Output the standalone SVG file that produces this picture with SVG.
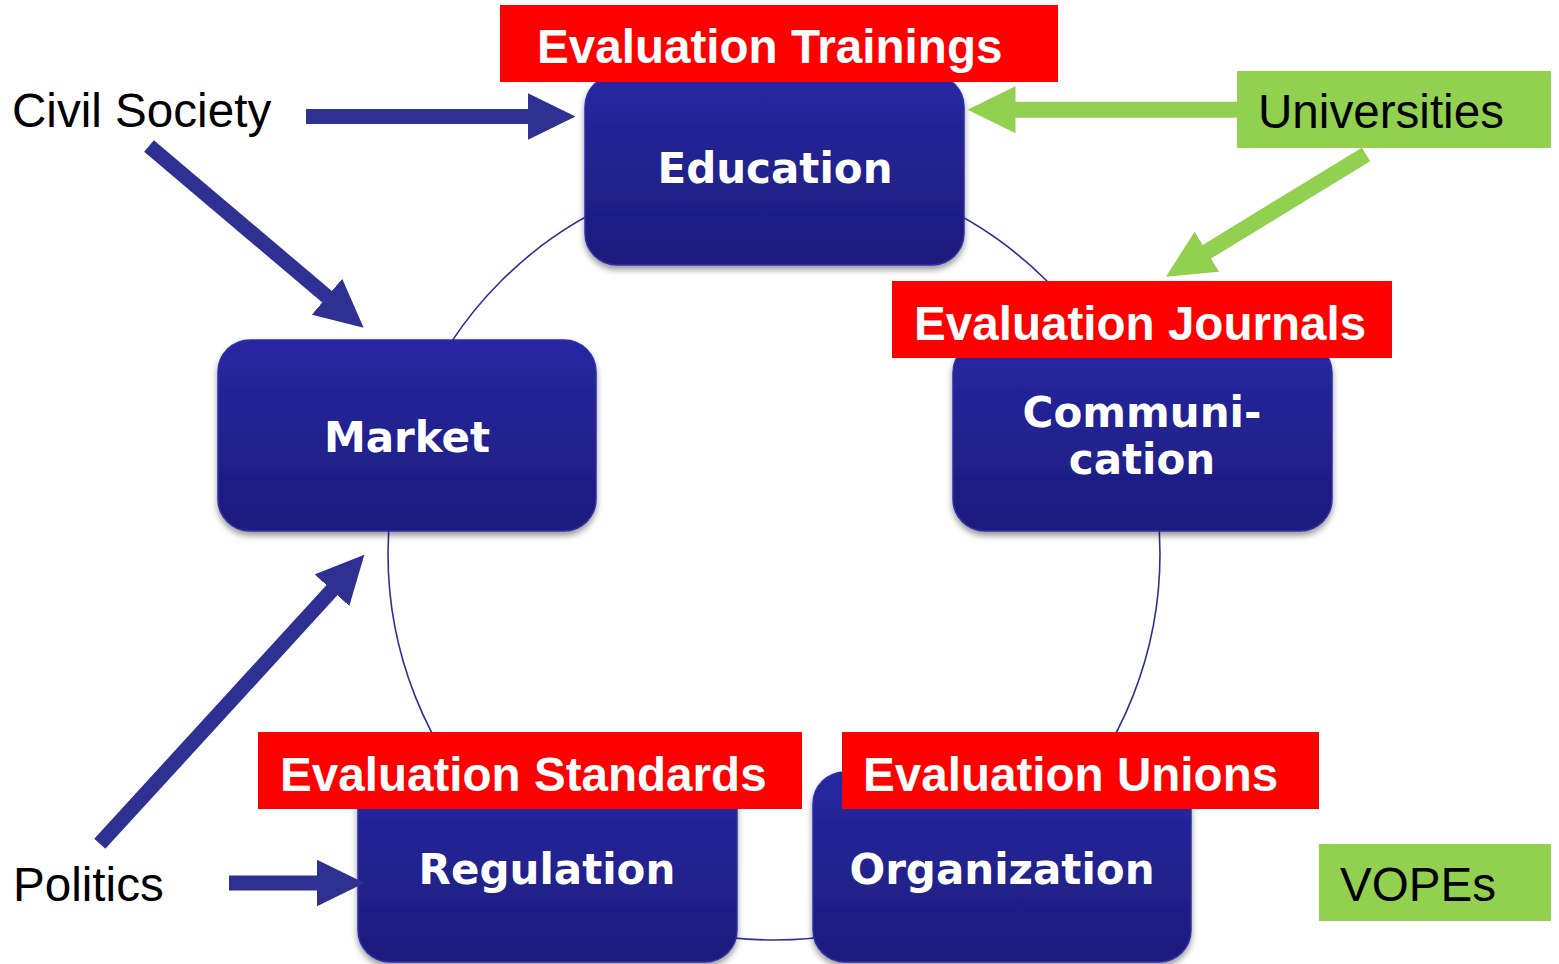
<svg xmlns="http://www.w3.org/2000/svg" width="1559" height="964" viewBox="0 0 1559 964">
<defs>
<style>
.box{fill:url(#boxGrad);stroke:#2f2fa6;stroke-width:1.5;filter:url(#shadow)}
.boxText{font-family:"DejaVu Sans","Verdana",sans-serif;font-weight:bold;font-size:42px;fill:#ffffff;text-anchor:middle}
.red{fill:#ff0000}
.green{fill:#92d050}
.redText{font-family:"Liberation Sans",Arial,sans-serif;font-weight:bold;font-size:47.6px;fill:#ffffff}
.plain{font-family:"Liberation Sans",Arial,sans-serif;font-size:47.6px;fill:#000000}
.ring{fill:none;stroke:#2e3192;stroke-width:1.6}
.blueArrow{stroke:#2e3192;stroke-width:15;fill:none;marker-end:url(#headBlue)}
.greenArrow{stroke:#92d050;stroke-width:16;fill:none;marker-end:url(#headGreen)}
</style>
<linearGradient id="boxGrad" x1="0" y1="0" x2="0" y2="1">
<stop offset="0" stop-color="#2727a2"/>
<stop offset="1" stop-color="#1c1c7c"/>
</linearGradient>
<filter id="shadow" x="-10%" y="-10%" width="120%" height="125%">
<feDropShadow dx="0" dy="4" stdDeviation="3" flood-color="#000000" flood-opacity="0.4"/>
</filter>
<marker id="headBlue" viewBox="0 0 48 47" refX="0.5" refY="23.5" markerWidth="48" markerHeight="47" markerUnits="userSpaceOnUse" orient="auto">
<path d="M0,0 L48,23.5 L0,47 Z" fill="#2e3192"/>
</marker>
<marker id="headGreen" viewBox="0 0 48 47" refX="0.5" refY="23.5" markerWidth="48" markerHeight="47" markerUnits="userSpaceOnUse" orient="auto">
<path d="M0,0 L48,23.5 L0,47 Z" fill="#92d050"/>
</marker>
</defs>
<rect width="1559" height="964" fill="#ffffff"/>

<g id="cycle">
<circle class="ring" cx="774" cy="554" r="386"/>
</g>

<g id="node-education">
<rect class="box" x="585" y="75" width="379" height="190" rx="32"/>
<text class="boxText" x="775" y="183">Education</text>
</g>
<g id="node-market">
<rect class="box" x="218" y="340" width="378" height="191" rx="32"/>
<text class="boxText" x="407" y="452">Market</text>
</g>
<g id="node-communication">
<rect class="box" x="953" y="341" width="379" height="190" rx="32"/>
<text class="boxText" x="1142" y="427">Communi-</text>
<text class="boxText" x="1142" y="474">cation</text>
</g>
<g id="node-regulation">
<rect class="box" x="358" y="772" width="379" height="190" rx="32"/>
<text class="boxText" x="547" y="884">Regulation</text>
</g>
<g id="node-organization">
<rect class="box" x="813" y="772" width="378" height="190" rx="32"/>
<text class="boxText" x="1002" y="884">Organization</text>
</g>

<g id="connectors">
<line class="blueArrow" x1="306" y1="116.5" x2="528" y2="116.5"/>
<line class="blueArrow" x1="149" y1="146" x2="327.4" y2="297"/>
<line class="blueArrow" x1="99.8" y1="843.8" x2="332.3" y2="589.8"/>
<line class="blueArrow" x1="229" y1="883" x2="317" y2="883"/>
<line class="greenArrow" x1="1240" y1="109.7" x2="1015" y2="109.7"/>
<line class="greenArrow" x1="1366" y1="154.5" x2="1206.5" y2="252"/>
</g>

<g id="label-trainings">
<rect class="red" x="500" y="5" width="558" height="77"/>
<text class="redText" x="537" y="63">Evaluation Trainings</text>
</g>
<g id="label-journals">
<rect class="red" x="892" y="281" width="500" height="77"/>
<text class="redText" x="914" y="340">Evaluation Journals</text>
</g>
<g id="label-standards">
<rect class="red" x="258" y="732" width="544" height="77"/>
<text class="redText" x="280" y="791">Evaluation Standards</text>
</g>
<g id="label-unions">
<rect class="red" x="842" y="732" width="477" height="77"/>
<text class="redText" x="863" y="791">Evaluation Unions</text>
</g>

<g id="label-universities">
<rect class="green" x="1237" y="71" width="314" height="77"/>
<text class="plain" x="1258" y="128">Universities</text>
</g>
<g id="label-vopes">
<rect class="green" x="1319" y="844" width="232" height="77"/>
<text class="plain" x="1340" y="901">VOPEs</text>
</g>
<g id="label-civil-society">
<text class="plain" x="12" y="127">Civil Society</text>
</g>
<g id="label-politics">
<text class="plain" x="13" y="901">Politics</text>
</g>
</svg>
